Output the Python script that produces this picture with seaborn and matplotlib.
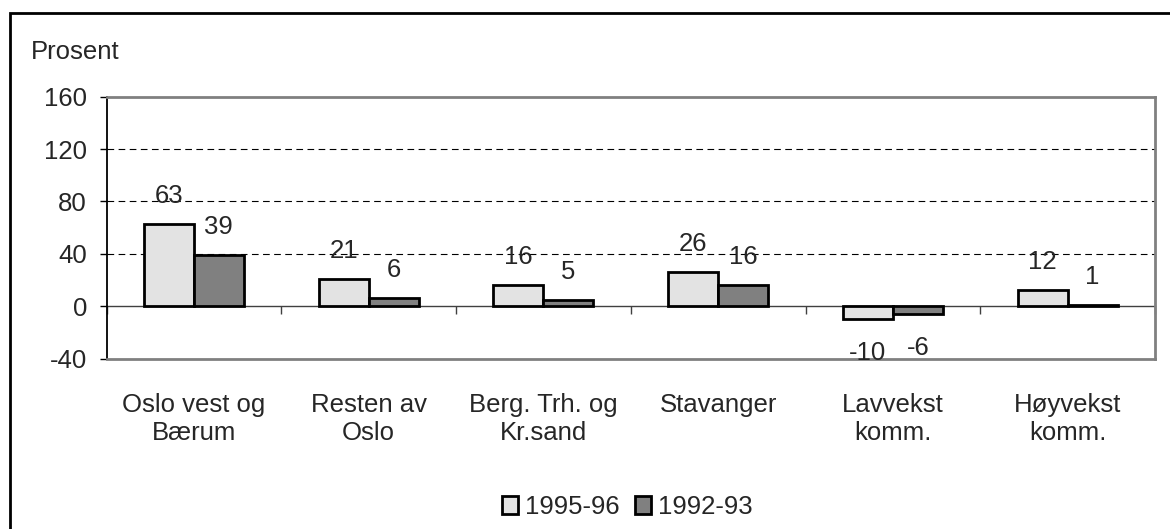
import numpy as np
import pandas as pd
import matplotlib
matplotlib.use("Agg")
import matplotlib.pyplot as plt
from matplotlib.patches import Rectangle
import seaborn as sns

# data
categories = ["Oslo vest og\nBærum", "Resten av\nOslo", "Berg. Trh. og\nKr.sand",
              "Stavanger", "Lavvekst\nkomm.", "Høyvekst\nkomm."]
series = ["1995-96", "1992-93"]
values_9596 = [63, 21, 16, 26, -10, 12]
values_9293 = [39, 6, 5, 16, -6, 1]
colors = ["#e3e3e3", "#808080"]
y_ticks = [-40, 0, 40, 80, 120, 160]

df = pd.DataFrame({
    "kategori": categories * 2,
    "periode": [series[0]] * 6 + [series[1]] * 6,
    "prosent": values_9596 + values_9293,
})

sns.set_style("white")
plt.rcParams["font.family"] = ["Liberation Sans", "DejaVu Sans"]
fs = 18.5

fig = plt.figure(figsize=(11.7, 5.29), dpi=100)
ax = fig.add_axes([106.5 / 1170, 1 - 358.5 / 529, (1155 - 106.5) / 1170, (358.5 - 96.7) / 529])

sns.barplot(data=df, x="kategori", y="prosent", hue="periode", hue_order=series,
            order=categories, palette=colors, width=0.571, edgecolor="black",
            linewidth=2, saturation=1, ax=ax, legend=True)

ax.set_ylim(-40, 160)
ax.set_xlim(-0.5, len(categories) - 0.5)
ax.set_yticks(y_ticks)
ax.set_yticklabels([str(v) for v in y_ticks], fontsize=fs)
ax.tick_params(axis="y", direction="out", length=5, width=1, color="black", pad=9, left=True)
ax.tick_params(axis="x", length=0, pad=25, labelsize=fs)
ax.set_xlabel("")
ax.set_ylabel("")
for lbl in ax.get_xticklabels():
    lbl.set_linespacing(1.22)

# gridlines
for v in [40, 80, 120]:
    ax.axhline(v, color="black", linestyle=(0, (6, 4)), linewidth=0.8, zorder=0)

# frame
for side in ["top", "right", "bottom"]:
    ax.spines[side].set_color("#808080")
    ax.spines[side].set_linewidth(2)
ax.spines["left"].set_color("black")
ax.spines["left"].set_linewidth(1.3)

# zero line with category separators
zero = ax.secondary_xaxis(40 / 200)
zero.set_xticks(np.arange(-0.5, len(categories), 1.0))
zero.tick_params(direction="out", length=6, width=1, color="#404040", labelbottom=False, labeltop=False)
zero.spines["bottom"].set_color("#404040")
zero.spines["bottom"].set_linewidth(1)
for side in ["top", "left", "right"]:
    zero.spines[side].set_visible(False)

# value labels
for container in ax.containers:
    for bar in container:
        h = bar.get_height()
        x = bar.get_x() + bar.get_width() / 2
        if h >= 0:
            ax.annotate(f"{h:.0f}", (x, h), xytext=(0, 11.5), textcoords="offset points",
                        ha="center", va="bottom", fontsize=fs)
        else:
            ax.annotate(f"{h:.0f}", (x, h), xytext=(0, -15.5), textcoords="offset points",
                        ha="center", va="top", fontsize=fs)

# legend
handles, labels = ax.get_legend_handles_labels()
ax.get_legend().remove()
fig.legend(handles, labels, loc="center", bbox_to_anchor=(627 / 1170, 1 - 507 / 529),
           ncol=2, frameon=False, fontsize=fs, handlelength=0.65, handleheight=0.65,
           handletextpad=0.25, columnspacing=0.6, borderpad=0)

fig.text(31 / 1170, 1 - 52 / 529, "Prosent", fontsize=fs, ha="left", va="center")

# outer border
fig.patches.append(Rectangle((10 / 1170, -0.05), 1.1, 1 - 13 / 529 + 0.05,
                             transform=fig.transFigure, fill=False,
                             edgecolor="black", linewidth=2))

fig.savefig("out.png", dpi=100)
